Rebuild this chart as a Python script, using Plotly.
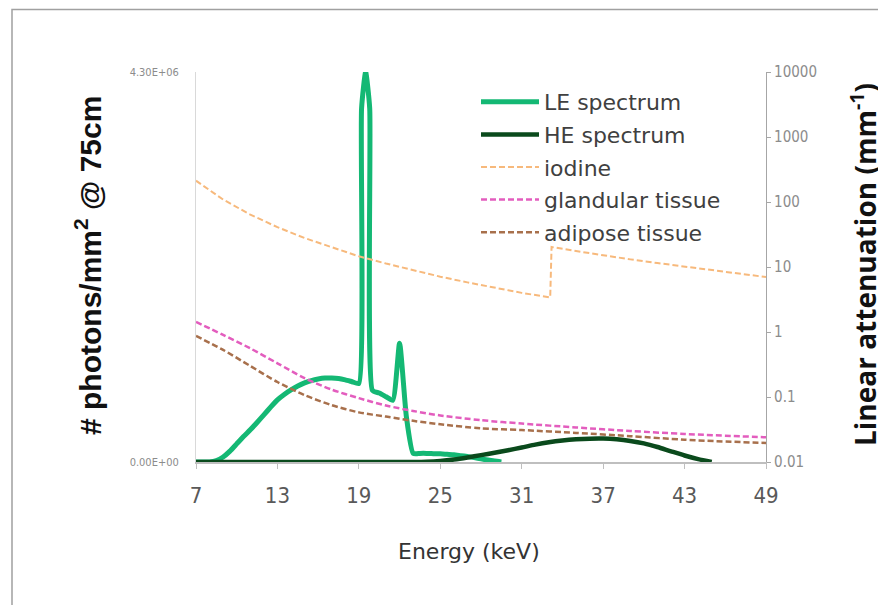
import plotly.graph_objects as go

# ---------------- data ----------------
le_energy = [7, 7.5, 8, 8.5, 9, 9.5, 10, 10.5, 11, 11.5, 12, 12.5, 13, 13.5, 14, 14.5,
             15, 15.5, 16, 16.5, 17, 17.5, 18, 18.5, 19, 19.2, 19.5, 19.8, 20, 20.5, 21,
             21.5, 22, 22.5, 23, 23.5, 24, 24.5, 25, 25.5, 26, 26.5, 27, 27.5, 28, 28.5,
             29, 29.5]
le_photons = [0, 0, 0, 15e3, 55e3, 120e3, 200e3, 280e3, 355e3, 435e3, 520e3, 605e3, 685e3,
              745e3, 795e3, 838e3, 872e3, 898e3, 915e3, 925e3, 926e3, 920e3, 905e3, 885e3,
              865e3, 3.9e6, 4.3e6, 3.9e6, 790e3, 760e3, 720e3, 680e3, 1.31e6, 500e3, 95e3,
              95e3, 95e3, 92e3, 90e3, 85e3, 80e3, 70e3, 60e3, 48e3, 35e3, 22e3, 10e3, 0]

he_energy = list(range(7, 46))
he_photons = [0, 0, 0, 0, 0, 0, 0, 0, 0, 0, 0, 0, 0, 0, 0, 0, 0,
              3e3, 12e3, 28e3, 50e3, 76e3, 102e3, 130e3, 160e3, 192e3, 218e3, 237e3,
              250e3, 257e3, 258e3, 250e3, 232e3, 205e3, 165e3, 118e3, 72e3, 32e3, 0]

iod_energy = [7, 9, 11, 13, 15, 17, 19, 21, 23, 25, 27, 29, 31, 33.1, 33.2, 35, 37, 39,
              41, 43, 45, 47, 49]
iod_mu = [213, 109, 64, 41, 27.9, 19.9, 14.6, 11.3, 8.9, 7.1, 5.8, 4.8, 4.0, 3.4, 20.3,
          17.6, 15.1, 13.1, 11.5, 10.1, 8.9, 7.9, 7.0]

tis_energy = [7, 9, 11, 13, 15, 17, 19, 21, 23, 25, 28, 31, 35, 39, 43, 49]
gland_mu = [1.43, 0.90, 0.56, 0.33, 0.195, 0.13, 0.096, 0.074, 0.061, 0.052, 0.044, 0.039,
            0.034, 0.030, 0.027, 0.024]
adip_mu = [0.87, 0.53, 0.30, 0.17, 0.107, 0.075, 0.058, 0.050, 0.043, 0.038, 0.033, 0.031,
           0.028, 0.025, 0.022, 0.0196]

x_ticks = [7, 13, 19, 25, 31, 37, 43, 49]
left_ticks = [0, 4.3e6]
left_tick_text = ["0.00E+00", "4.30E+06"]
right_ticks = [0.01, 0.1, 1, 10, 100, 1000, 10000]
right_tick_text = ["0.01", "0.1", "1", "10", "100", "1000", "10000"]

# ---------------- figure ----------------
L, R, T, B = 196, 766, 72, 462      # plot area in picture pixels
W, H = 886, 605
OFF = 8                              # page body margin offset
PW, PH = R - L, B - T


def px(x):
    return (x - L) / PW


def py(y):
    return (B - y) / PH


FONT = "DejaVu Sans"
fig = go.Figure()

fig.add_trace(go.Scatter(x=le_energy, y=le_photons, name="LE spectrum", mode="lines",
                         line=dict(color="#14B874", width=5, shape="spline", smoothing=0.5),
                         legendgroup="a"))
fig.add_trace(go.Scatter(x=he_energy, y=he_photons, name="HE spectrum", mode="lines",
                         line=dict(color="#0A4A1C", width=4.5, shape="spline", smoothing=0.6),
                         legendgroup="b"))
fig.add_trace(go.Scatter(x=iod_energy, y=iod_mu, name="iodine", mode="lines", yaxis="y2",
                         line=dict(color="#F7B97C", width=2, dash="6px,3px"),
                         legendgroup="c"))
fig.add_trace(go.Scatter(x=tis_energy, y=gland_mu, name="glandular tissue", mode="lines",
                         yaxis="y2",
                         line=dict(color="#E35DBE", width=2.5, dash="6px,3px",
                                   shape="spline", smoothing=0.8),
                         legendgroup="d"))
fig.add_trace(go.Scatter(x=tis_energy, y=adip_mu, name="adipose tissue", mode="lines",
                         yaxis="y2",
                         line=dict(color="#A8704C", width=2.5, dash="6px,3px",
                                   shape="spline", smoothing=0.8),
                         legendgroup="e"))

fig.update_layout(
    width=W, height=H,
    margin=dict(l=L - OFF, r=W - R + OFF, t=T - OFF, b=H - B + OFF, autoexpand=False),
    paper_bgcolor="white", plot_bgcolor="white",
    font=dict(family=FONT, color="#404040"),
    showlegend=True,
    legend=dict(x=px(476), y=py(81), xanchor="left", yanchor="top",
                font=dict(family=FONT, size=22, color="#404040"),
                bgcolor="rgba(0,0,0,0)", traceorder="grouped", tracegroupgap=1,
                itemwidth=58),
    xaxis=dict(range=[7, 49], tickvals=x_ticks, ticktext=[str(v) for v in x_ticks],
               showgrid=False, zeroline=False, showline=True, linecolor="#BFBFBF",
               linewidth=1.5, ticks="outside", ticklen=5, tickcolor="#BFBFBF",
               automargin=False, ticklabelstandoff=8,
               tickfont=dict(family="DejaVu Sans Condensed", size=22, color="#595959")),
    yaxis=dict(range=[0, 4.3e6], tickvals=left_ticks, ticktext=left_tick_text,
               showgrid=True, gridcolor="#E4E4E4", griddash="dot", zeroline=False,
               showline=True, linecolor="#D9D9D9", linewidth=1, automargin=False,
               ticklabelstandoff=14,
               tickfont=dict(family="DejaVu Sans Condensed", size=11, color="#8C8C8C")),
    yaxis2=dict(type="log", range=[-2, 4], overlaying="y", side="right",
                tickvals=right_ticks, ticktext=right_tick_text, automargin=False,
                showgrid=False, zeroline=False, showline=True, linecolor="#A6A6A6",
                linewidth=1.2, ticks="outside", ticklen=4, tickcolor="#A6A6A6",
                tickfont=dict(family="DejaVu Sans Condensed", size=15, color="#8C8C8C")),
)

# axis titles
fig.add_annotation(text="Energy (keV)", xref="paper", yref="paper", x=px(469), y=py(551),
                   showarrow=False, xanchor="center", yanchor="middle",
                   font=dict(family=FONT, size=22, color="#333333"))
fig.add_annotation(text="<b># photons/mm<sup>2</sup> @ 75cm</b>", xref="paper", yref="paper",
                   x=px(88), y=py(266), showarrow=False, textangle=-90,
                   xanchor="center", yanchor="middle",
                   font=dict(family="Liberation Sans", size=30, color="#111111"))
fig.add_annotation(text="<b>Linear attenuation (mm<sup>-1</sup>)</b>", xref="paper",
                   yref="paper", x=px(863), y=py(265), showarrow=False, textangle=-90,
                   xanchor="center", yanchor="middle",
                   font=dict(family="Open Sans", size=28, color="#111111"))

# outer frame of the picture
fig.add_shape(type="rect", xref="paper", yref="paper",
              x0=px(12), x1=px(900), y0=py(620), y1=py(9.5),
              line=dict(color="#A0A0A0", width=1.5), fillcolor="rgba(0,0,0,0)", layer="below")

fig.write_html("out.html")
